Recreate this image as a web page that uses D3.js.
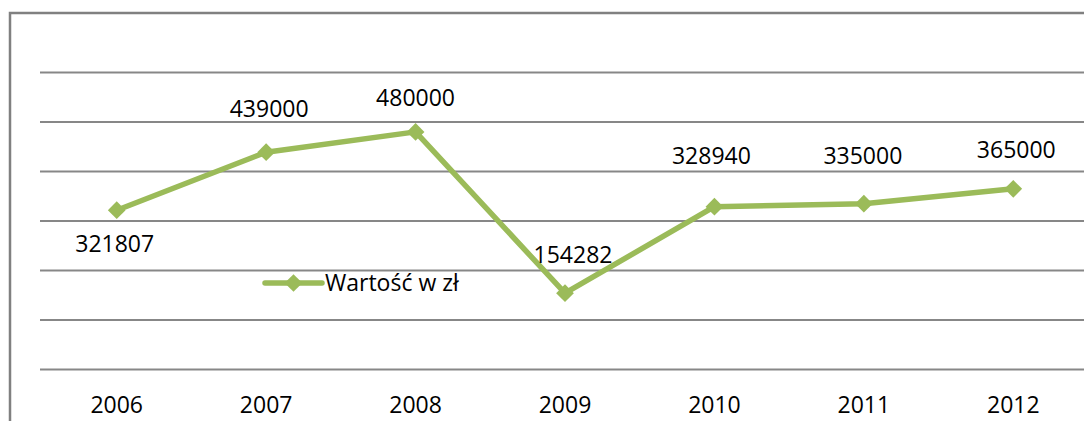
<!DOCTYPE html>
<html>
<head>
<meta charset="utf-8">
<script src="https://cdn.jsdelivr.net/npm/d3@7"></script>
<style>
  html, body { margin: 0; padding: 0; background: #fff; }
  svg { display: block; }
  text { font-family: "Open Sans", "Noto Sans", sans-serif; fill: #000; }
</style>
</head>
<body>
<div id="chart"></div>
<script>
// ---- data ----
const categories = ["2006", "2007", "2008", "2009", "2010", "2011", "2012"];
const values = [321807, 439000, 480000, 154282, 328940, 335000, 365000];
const yTicks = [0, 100000, 200000, 300000, 400000, 500000, 600000];
const seriesName = "Wartość w zł";

// ---- layout (label placement offsets relative to the point, in px) ----
const labelDx = [-2, 3, 0, 8, -3, -1, 3];
const labelDy = [42, -35, -26, -30, -43, -40, -31];

const W = 1084, H = 421;
const green = "#9BBB59";
const grid = "#878787";

const svg = d3.select("#chart").append("svg").attr("width", W).attr("height", H);

// chart frame (cropped: only left and top edges are visible)
svg.append("path")
  .attr("d", `M10,${H} L10,13 L${W},13`)
  .attr("fill", "none").attr("stroke", "#808080").attr("stroke-width", 2.5);

const x = d3.scaleBand().domain(categories).range([42, 1088]);
const y = d3.scaleLinear().domain([0, 600000]).range([369.5, 72.5]);
const cx = d => x(d) + x.bandwidth() / 2;

// gridlines
svg.append("g").selectAll("line").data(yTicks).join("line")
  .attr("x1", 40).attr("x2", W)
  .attr("y1", d => y(d)).attr("y2", d => y(d))
  .attr("stroke", grid).attr("stroke-width", 2.2);

// x axis labels
const xAxis = d3.axisBottom(x).tickSize(0).tickPadding(0);
const gx = svg.append("g").attr("transform", `translate(0, ${y(0)})`).call(xAxis);
gx.select(".domain").remove();
gx.selectAll("text")
  .attr("y", 43.5).attr("dy", null)
  .style("font-size", "23px")
  .style("font-family", "'Open Sans', sans-serif")
  .attr("fill", "#000");

// line
const line = d3.line().x((d, i) => cx(categories[i])).y(d => y(d));
svg.append("path").datum(values)
  .attr("d", line)
  .attr("fill", "none").attr("stroke", green).attr("stroke-width", 5.5)
  .attr("stroke-linejoin", "round");

// markers
const diamond = d3.symbol().type(d3.symbolDiamond2).size(200);
svg.append("g").selectAll("path").data(values).join("path")
  .attr("d", diamond)
  .attr("transform", (d, i) => `translate(${cx(categories[i])},${y(d)})`)
  .attr("fill", green);

// data labels
svg.append("g").selectAll("text").data(values).join("text")
  .attr("x", (d, i) => cx(categories[i]) + labelDx[i])
  .attr("y", (d, i) => y(d) + labelDy[i])
  .attr("text-anchor", "middle")
  .style("font-size", "23px")
  .text(d => String(d));

// legend
const lg = svg.append("g").attr("transform", "translate(265, 283)");
lg.append("line").attr("x1", 0).attr("x2", 57).attr("y1", 0).attr("y2", 0)
  .attr("stroke", green).attr("stroke-width", 5.5).attr("stroke-linecap", "round");
lg.append("path").attr("d", diamond).attr("transform", "translate(28.5,0)").attr("fill", green);
lg.append("text").attr("x", 60).attr("y", 8)
  .style("font-size", "23px").text(seriesName);
</script>
</body>
</html>
